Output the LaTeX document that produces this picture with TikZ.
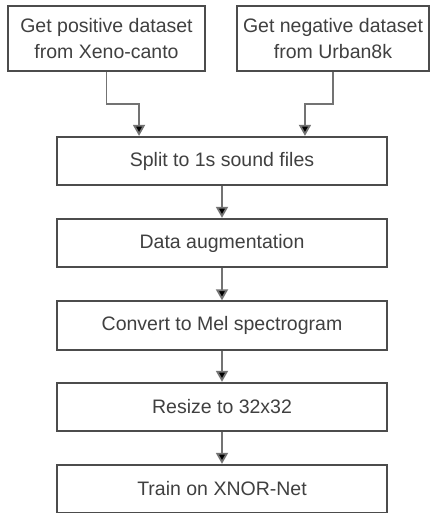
\documentclass[tikz,border=0pt]{standalone}
\usepackage{fontspec}
\setmainfont{Liberation Sans}
\usetikzlibrary{arrows.meta,calc}

\begin{document}
\begin{tikzpicture}[x=1pt, y=-1pt,
    box/.style={draw=black!70, line width=1.8pt, fill=white, inner sep=0pt,
        minimum height=48.5pt, minimum width=330pt, align=center,
        text=black!75, font=\fontsize{19.5}{26}\selectfont},
    link/.style={draw=black!55, line width=1.8pt,
        -{Triangle[length=11pt, width=12pt, fill=black]}}]
    % Cadre
    \useasboundingbox (0,0) rectangle (430,513);

    % Sources
    \node[box, minimum width=197pt, minimum height=65pt] (pos) at (106.5,38.5)
        {Get positive dataset\\from Xeno-canto};
    \node[box, minimum width=192pt, minimum height=65pt] (neg) at (333,38.5)
        {Get negative dataset\\from Urban8k};

    % Etapes
    \node[box] (split) at (222,161) {Split to 1s sound files};
    \node[box] (aug)   at (222,243) {Data augmentation};
    \node[box] (mel)   at (222,325.5) {Convert to Mel spectrogram};
    \node[box] (rsz)   at (222,407) {Resize to 32x32};
    \node[box] (train) at (222,489) {Train on XNOR-Net};

    % Entrees du bloc split
    \coordinate (inL) at ($(split.north)!0.5!(split.north west)$);
    \coordinate (inR) at ($(split.north)!0.5!(split.north east)$);

    % Liaisons
    \draw[link] (pos.south) -- ++(0,32) -| (inL);
    \draw[link] (neg.south) -- ++(0,32) -| (inR);
    \draw[link] (split) -- (aug);
    \draw[link] (aug) -- (mel);
    \draw[link] (mel) -- (rsz);
    \draw[link] (rsz) -- (train);
\end{tikzpicture}
\end{document}
